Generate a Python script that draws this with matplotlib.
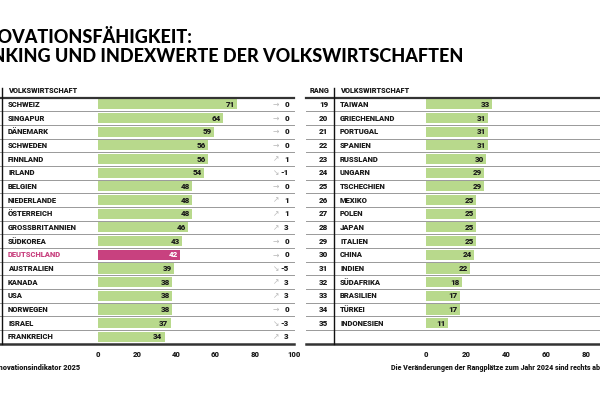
import matplotlib.pyplot as plt

plt.rcParams['font.family'] = ['Roboto', 'DejaVu Sans']

# left table: ranks 1-18
left_names = ['SCHWEIZ', 'SINGAPUR', 'DÄNEMARK', 'SCHWEDEN', 'FINNLAND', 'IRLAND',
              'BELGIEN', 'NIEDERLANDE', 'ÖSTERREICH', 'GROSSBRITANNIEN', 'SÜDKOREA',
              'DEUTSCHLAND', 'AUSTRALIEN', 'KANADA', 'USA', 'NORWEGEN', 'ISRAEL', 'FRANKREICH']
left_values = [71, 64, 59, 56, 56, 54, 48, 48, 48, 46, 43, 42, 39, 38, 38, 38, 37, 34]
left_change = [0, 0, 0, 0, 1, -1, 0, 1, 1, 3, 0, 0, -5, 3, 3, 0, -3, 3]

# right table: ranks 19-35
right_ranks = list(range(19, 36))
right_names = ['TAIWAN', 'GRIECHENLAND', 'PORTUGAL', 'SPANIEN', 'RUSSLAND', 'UNGARN',
               'TSCHECHIEN', 'MEXIKO', 'POLEN', 'JAPAN', 'ITALIEN', 'CHINA', 'INDIEN',
               'SÜDAFRIKA', 'BRASILIEN', 'TÜRKEI', 'INDONESIEN']
right_values = [33, 31, 31, 31, 30, 29, 29, 25, 25, 25, 25, 24, 22, 18, 17, 17, 11]

left_ticks = [0, 20, 40, 60, 80, 100]
right_ticks = [0, 20, 40, 60, 80]  # 100 lies beyond the crop

GREEN = '#b8d98c'
PINK = '#c8417f'
INK = '#1a1a1a'
W, H = 600, 399


def axes_px(x0, x1, y0, y1):
    return fig.add_axes([x0 / W, 1 - y1 / H, (x1 - x0) / W, (y1 - y0) / H])


fig = plt.figure(figsize=(6, 3.99), dpi=100)

fig.text(193 / W, 1 - 37.5 / H, 'INNOVATIONSFÄHIGKEIT:', ha='right', va='center',
         fontsize=13, fontweight='black', family='Lato')
fig.text(463 / W, 1 - 56.5 / H, 'RANKING UND INDEXWERTE DER VOLKSWIRTSCHAFTEN', ha='right',
         va='center', fontsize=13, fontweight='black', family='Lato')


def setup(ax, ticks):
    ax.set_xlim(0, 100)
    ax.set_ylim(17.5, -0.5)
    for s in ax.spines.values():
        s.set_visible(False)
    ax.set_yticks([])
    ax.set_xticks(ticks)
    ax.tick_params(axis='x', length=0, pad=5, labelsize=5.5, labelcolor=INK)
    for lab in ax.get_xticklabels():
        lab.set_fontweight('black')


def table_lines(ax, x0, xv):
    ax.plot([x0, 100], [-0.5, -0.5], color='#333333', lw=1.6, clip_on=False)
    ax.plot([x0, 100], [17.5, 17.5], color='#333333', lw=1.8, clip_on=False)
    for i in range(17):
        ax.plot([x0, 100], [i + 0.5, i + 0.5], color='#999999', lw=0.7, clip_on=False)
    ax.plot([xv, xv], [-1.2, 17.55], color='#111111', lw=1.0, clip_on=False)


# ---- left panel
axl = axes_px(98, 294, 97.5, 343.7)
setup(axl, left_ticks)
table_lines(axl, -50, -49.2)
axl.text(-45.9, -1.0, 'VOLKSWIRTSCHAFT', fontsize=5.3, fontweight='black', va='center',
         color=INK)

colors = [PINK if n == 'DEUTSCHLAND' else GREEN for n in left_names]
axl.barh(range(18), left_values, height=0.74, color=colors)
for i, (n, v, c) in enumerate(zip(left_names, left_values, left_change)):
    de = n == 'DEUTSCHLAND'
    axl.text(-45.9, i, n, fontsize=5.5, fontweight='black', va='center',
             color=PINK if de else INK)
    axl.text(v - 1.2, i, str(v), fontsize=5.8, fontweight='black', va='center', ha='right',
             color='white' if de else INK)
    arrow = '→' if c == 0 else ('↗' if c > 0 else '↘')
    axl.text(90.8, i, arrow, fontsize=5.5, va='center', ha='center', color='#b8b8b8',
             family='DejaVu Sans')
    axl.text(97.4, i, str(c), fontsize=5.8, fontweight='black', va='center', ha='right',
             color=INK)

fig.text(80 / W, 1 - 368 / H, 'Innovationsindikator 2025', ha='right', va='center',
         fontsize=5.3, fontweight='black', color=INK)

# ---- right panel
axr = axes_px(426, 626, 97.5, 343.7)
setup(axr, right_ticks)
table_lines(axr, -60, -46)
axr.text(-53, -1.0, 'RANG', fontsize=5.3, fontweight='black', va='center', ha='center',
         color=INK)
axr.text(-43, -1.0, 'VOLKSWIRTSCHAFT', fontsize=5.3, fontweight='black', va='center',
         color=INK)

axr.barh(range(len(right_values)), right_values, height=0.74, color=GREEN)
for i, (r, n, v) in enumerate(zip(right_ranks, right_names, right_values)):
    axr.text(-49, i, str(r), fontsize=5.8, fontweight='black', va='center', ha='right',
             color=INK)
    axr.text(-43, i, n, fontsize=5.5, fontweight='black', va='center', color=INK)
    axr.text(v - 1.2, i, str(v), fontsize=5.8, fontweight='black', va='center', ha='right',
             color=INK)

fig.text(391 / W, 1 - 368 / H,
         'Die Veränderungen der Rangplätze zum Jahr 2024 sind rechts abgebildet.',
         ha='left', va='center', fontsize=5.1, fontweight='black', color=INK)

fig.savefig('out.png', dpi=100)
